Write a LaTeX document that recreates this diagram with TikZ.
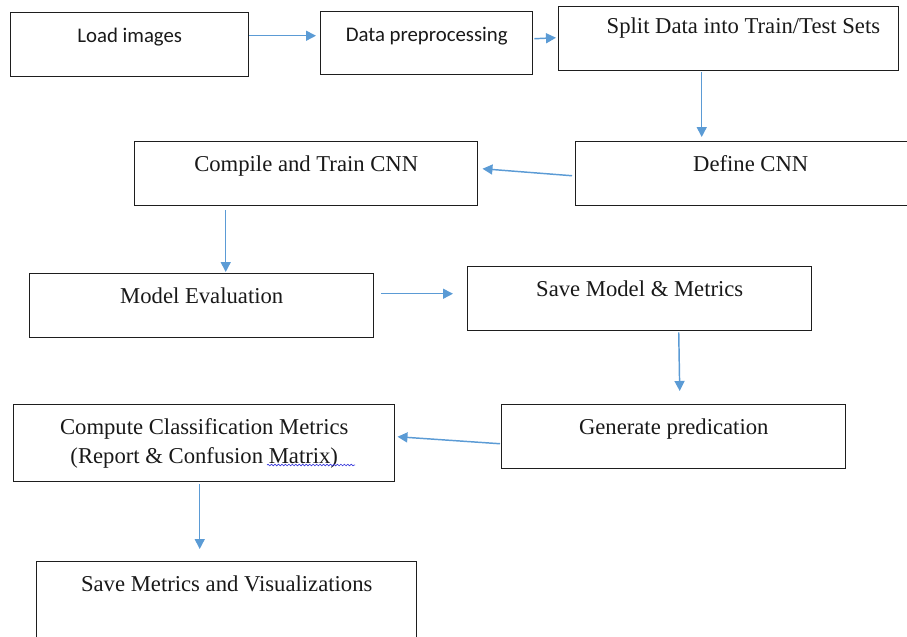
\documentclass[tikz,border=0pt]{standalone}
\usepackage{fontspec}
\setmainfont{Liberation Serif}
\newfontfamily\calibrifont{Carlito}
\usepackage{tikz}
\usetikzlibrary{arrows.meta,decorations.pathmorphing}

\definecolor{flowblue}{RGB}{91,155,213}
\definecolor{boxline}{RGB}{30,30,30}
\definecolor{spellblue}{RGB}{60,60,220}

\tikzset{
  procbox/.style={draw=boxline, line width=1.1pt, rectangle, anchor=north west,
    inner sep=0pt, text height=22pt, align=center, text=black!90,
    font=\fontsize{17}{21.75}\selectfont},
  sansbox/.style={procbox, font=\calibrifont\fontsize{15.6}{18}\selectfont},
  flow/.style={draw=flowblue, line width=1.1pt, -{Triangle[length=7.5pt,width=7.5pt]}}
}

\begin{document}
\begin{tikzpicture}[x=0.75pt,y=-0.75pt]
      \useasboundingbox (0,0) rectangle (907,636);
      \clip (0,0) rectangle (907,636);
      \node[sansbox, minimum width=178.5pt, text depth=26pt] (load) at (10,12) {Load images};
      \node[sansbox, minimum width=159pt, text depth=25.25pt] (prep) at (320,11) {Data preprocessing};
      \node[procbox, minimum width=255pt, text height=20pt, text depth=28pt] (split) at (558,6) {\hspace*{22pt}Split Data into Train/Test Sets};
      \node[procbox, minimum width=262.5pt, text depth=26pt] (define) at (575,141) {Define CNN};
      \node[procbox, minimum width=257.25pt, text depth=26pt] (compile) at (134,141) {Compile and Train CNN};
      \node[procbox, minimum width=258pt, text depth=26pt] (evaluate) at (29,273) {Model Evaluation};
      \node[procbox, minimum width=258pt, text depth=26pt] (savemodel) at (467,266) {Save Model \& Metrics};
      \node[procbox, minimum width=258pt, text depth=26pt] (predict) at (501,404) {Generate predication};
      \node[procbox, minimum width=285.75pt, text height=43.75pt, text depth=14pt] (metrics) at (13,404) {Compute Classification Metrics\\(Report \& Confusion Matrix)};
      \node[procbox, minimum width=285pt, text depth=44.75pt] (savemetrics) at (36,561) {Save Metrics and Visualizations};
      \draw[spellblue, line width=0.5pt, decorate, decoration={snake, amplitude=0.6pt, segment length=2.6pt}] (267,465) -- (355,465);
      \draw[flow] ([shift={(0,-9)}]load.east) -- ([shift={(-4,-7.5)}]prep.west);
      \draw[flow] ([shift={(1,-4.5)}]prep.east) -- ([shift={(-2,-1)}]split.west);
      \draw[flow] ([shift={(-27,1)}]split.south) -- ([shift={(-49,-4)}]define.north);
      \draw[flow] ([shift={(-3,2)}]define.west) -- ([shift={(4,-5)}]compile.east);
      \draw[flow] ([shift={(-80.5,4)}]compile.south) -- ([shift={(24,-1)}]evaluate.north);
      \draw[flow] ([shift={(7,-12)}]evaluate.east) -- ([shift={(-14,-5)}]savemodel.west);
      \draw[flow] ([shift={(39,1)}]savemodel.south) -- ([shift={(6,-13)}]predict.north);
      \draw[flow] ([shift={(-1,7)}]predict.west) -- ([shift={(2,-6.5)}]metrics.east);
      \draw[flow] ([shift={(-4.5,2)}]metrics.south) -- ([shift={(-27,-12)}]savemetrics.north);
\end{tikzpicture}
\end{document}
